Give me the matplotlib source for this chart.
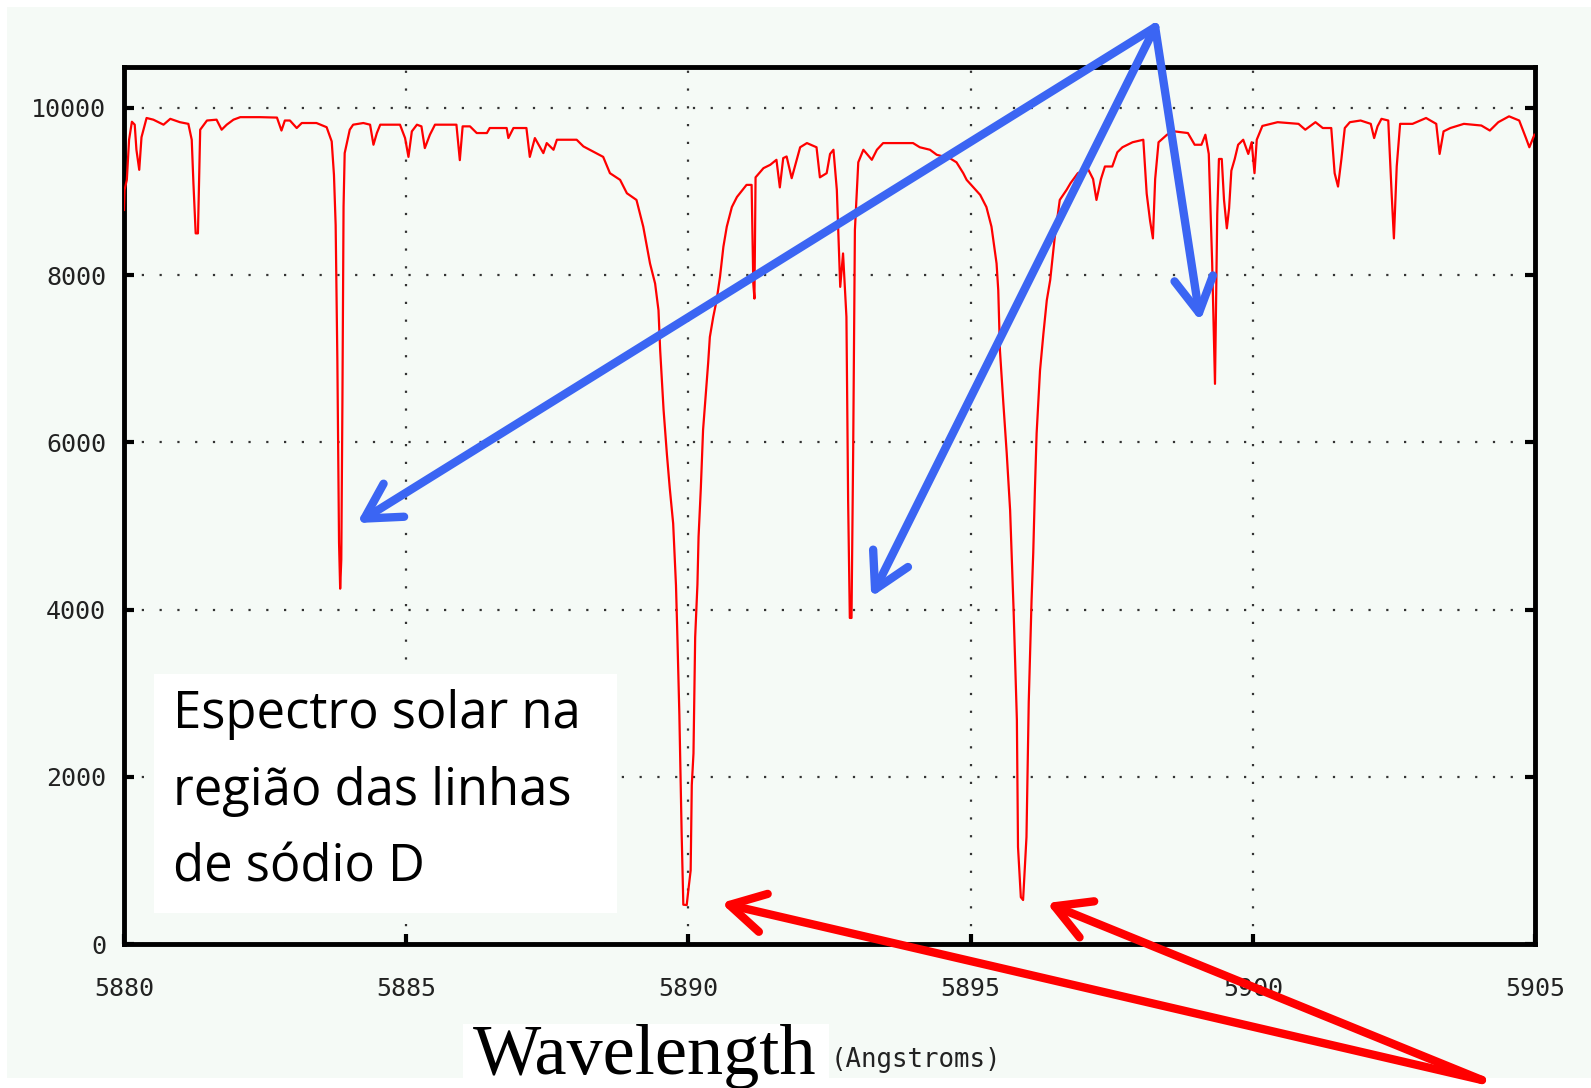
import matplotlib.pyplot as plt
from matplotlib.patches import Rectangle


# solar spectrum around the sodium D lines
WAVELENGTH = [
    5880.00, 5880.01, 5880.05, 5880.09, 5880.14, 5880.19, 5880.22, 5880.27, 5880.31, 5880.40,
    5880.52, 5880.70, 5880.82, 5880.99, 5881.14, 5881.20, 5881.23, 5881.27, 5881.31, 5881.35,
    5881.47, 5881.64, 5881.73, 5881.82, 5881.94, 5882.06, 5882.41, 5882.71, 5882.79, 5882.85,
    5882.94, 5883.06, 5883.15, 5883.41, 5883.59, 5883.68, 5883.72, 5883.75, 5883.78, 5883.81,
    5883.83, 5883.85, 5883.87, 5883.89, 5883.91, 5884.00, 5884.06, 5884.24, 5884.36, 5884.42,
    5884.48, 5884.54, 5884.89, 5884.98, 5885.04, 5885.10, 5885.19, 5885.27, 5885.33, 5885.42,
    5885.51, 5885.89, 5885.95, 5886.00, 5886.13, 5886.25, 5886.43, 5886.48, 5886.78, 5886.81,
    5886.90, 5887.13, 5887.19, 5887.28, 5887.43, 5887.49, 5887.61, 5887.67, 5888.02, 5888.14,
    5888.31, 5888.49, 5888.61, 5888.79, 5888.91, 5889.08, 5889.20, 5889.32, 5889.41, 5889.47,
    5889.50, 5889.56, 5889.62, 5889.67, 5889.73, 5889.78, 5889.80, 5889.84, 5889.88, 5889.91,
    5889.97, 5890.00, 5890.04, 5890.06, 5890.09, 5890.12, 5890.16, 5890.18, 5890.22, 5890.26,
    5890.31, 5890.35, 5890.38, 5890.44, 5890.50, 5890.56, 5890.62, 5890.68, 5890.77, 5890.86,
    5891.03, 5891.12, 5891.15, 5891.17, 5891.19, 5891.33, 5891.45, 5891.56, 5891.62, 5891.68,
    5891.74, 5891.83, 5891.92, 5891.98, 5892.10, 5892.27, 5892.33, 5892.45, 5892.51, 5892.57,
    5892.63, 5892.69, 5892.74, 5892.80, 5892.83, 5892.86, 5892.89, 5892.92, 5892.95, 5893.01,
    5893.10, 5893.25, 5893.34, 5893.45, 5893.75, 5893.98, 5894.10, 5894.28, 5894.40, 5894.63,
    5894.75, 5894.87, 5894.93, 5895.05, 5895.17, 5895.28, 5895.37, 5895.46, 5895.49, 5895.52,
    5895.58, 5895.64, 5895.70, 5895.76, 5895.82, 5895.84, 5895.89, 5895.93, 5895.99, 5896.03,
    5896.08, 5896.11, 5896.14, 5896.17, 5896.23, 5896.29, 5896.35, 5896.41, 5896.49, 5896.58,
    5896.70, 5896.77, 5896.90, 5897.08, 5897.17, 5897.23, 5897.31, 5897.38, 5897.51, 5897.60,
    5897.69, 5897.87, 5898.06, 5898.12, 5898.18, 5898.23, 5898.27, 5898.33, 5898.48, 5898.61,
    5898.85, 5898.97, 5899.09, 5899.16, 5899.22, 5899.28, 5899.33, 5899.37, 5899.40, 5899.45,
    5899.49, 5899.54, 5899.58, 5899.62, 5899.68, 5899.74, 5899.83, 5899.92, 5899.98, 5900.03,
    5900.07, 5900.17, 5900.44, 5900.81, 5900.93, 5901.11, 5901.24, 5901.39, 5901.45, 5901.51,
    5901.57, 5901.63, 5901.72, 5901.91, 5902.09, 5902.15, 5902.21, 5902.28, 5902.40, 5902.46,
    5902.50, 5902.55, 5902.61, 5902.83, 5903.07, 5903.25, 5903.31, 5903.38, 5903.50, 5903.74,
    5904.05, 5904.20, 5904.35, 5904.54, 5904.72, 5904.84, 5904.90, 5904.99,
]
FLUX = [
    8780, 9020, 9140, 9620, 9835, 9800, 9500, 9260, 9650, 9880,
    9860, 9800, 9870, 9830, 9810, 9620, 9100, 8500, 8500, 9740,
    9850, 9860, 9740, 9800, 9860, 9890, 9890, 9885, 9730, 9850,
    9850, 9760, 9820, 9820, 9770, 9600, 9200, 8600, 7000, 4800,
    4250, 4600, 6500, 8820, 9460, 9740, 9800, 9820, 9800, 9560,
    9700, 9800, 9800, 9640, 9415, 9720, 9800, 9780, 9520, 9680,
    9800, 9800, 9376, 9780, 9780, 9700, 9700, 9760, 9760, 9640,
    9760, 9760, 9415, 9640, 9460, 9580, 9500, 9620, 9620, 9540,
    9480, 9415, 9220, 9140, 8980, 8900, 8580, 8140, 7900, 7580,
    7100, 6390, 5850, 5450, 5030, 4290, 3800, 2740, 1330, 470,
    466, 650, 880, 1900, 2280, 3670, 4300, 4870, 5450, 6150,
    6590, 6950, 7260, 7500, 7700, 7980, 8340, 8580, 8815, 8935,
    9080, 9080, 7900, 7720, 9170, 9280, 9320, 9380, 9050, 9400,
    9420, 9160, 9380, 9530, 9580, 9530, 9170, 9220, 9450, 9500,
    9020, 7860, 8260, 7500, 5300, 3900, 3900, 5940, 8540, 9350,
    9500, 9380, 9500, 9580, 9580, 9580, 9530, 9500, 9440, 9400,
    9350, 9220, 9140, 9050, 8960, 8815, 8580, 8140, 7820, 7100,
    6470, 5870, 5190, 4030, 2680, 1160, 560, 526, 1280, 2890,
    4110, 4680, 5450, 6110, 6860, 7300, 7700, 7940, 8450, 8900,
    9020, 9100, 9220, 9270, 9150, 8900, 9150, 9300, 9300, 9470,
    9530, 9590, 9620, 8975, 8650, 8440, 9150, 9590, 9680, 9720,
    9700, 9560, 9560, 9680, 9450, 8150, 6700, 8730, 9390, 9390,
    8900, 8560, 8800, 9250, 9390, 9560, 9620, 9450, 9590, 9220,
    9620, 9785, 9830, 9810, 9740, 9830, 9760, 9760, 9220, 9060,
    9390, 9760, 9830, 9850, 9810, 9640, 9780, 9870, 9850, 8975,
    8440, 9300, 9810, 9810, 9880, 9810, 9450, 9720, 9760, 9810,
    9790, 9730, 9830, 9900, 9850, 9640, 9530, 9680,
]
X_TICKS = [5880, 5885, 5890, 5895, 5900, 5905]
Y_TICKS = [0, 2000, 4000, 6000, 8000, 10000]

# arrows: blue ones point at weaker lines, red ones at the sodium D pair
BLUE_SOURCE = (5898.27, 10967)
BLUE_TARGETS = [(5884.13, 5035), (5893.24, 4150), (5899.07, 7450)]
RED_SOURCE = (5904.06, -1627)
RED_TARGETS = [(5890.58, 490), (5896.35, 490)]

NOTE_LINES = ["Espectro solar na", "região das linhas", "de sódio D"]

W, H = 1591, 1088
BG = "#f5faf6"
BLUE = "#3b65f3"


def px_x(x):
    return x / W


def px_y(y):
    # y measured from the top of the picture
    return 1 - y / H


def main():
    fig = plt.figure(figsize=(W / 100, H / 100), dpi=100, facecolor="white")

    # slide background and the white patch behind the x label
    fig.add_artist(Rectangle((px_x(7), px_y(1078)), 1 - px_x(7), (1078 - 7) / H,
                             transform=fig.transFigure, facecolor=BG, edgecolor="none", zorder=-2))
    fig.add_artist(Rectangle((px_x(463), 0), 366 / W, (H - 1024) / H,
                             transform=fig.transFigure, facecolor="white", edgecolor="none", zorder=-1))

    ax = fig.add_axes([px_x(124), px_y(944), (1535 - 124) / W, (944 - 67) / H])
    ax.set_facecolor(BG)
    ax.plot(WAVELENGTH, FLUX, color="red", linewidth=1.6, zorder=3)

    ax.set_xlim(5880, 5905)
    ax.set_ylim(0, 10490)
    ax.set_xticks(X_TICKS, labels=[str(t) for t in X_TICKS],
                  fontfamily="DejaVu Sans Mono", fontsize=18, color="#222222")
    ax.set_yticks(Y_TICKS, labels=[str(t) for t in Y_TICKS],
                  fontfamily="DejaVu Sans Mono", fontsize=18, color="#222222")
    ax.tick_params(axis="both", direction="in", length=7, width=3, right=True, top=False)
    ax.tick_params(axis="x", pad=24)
    ax.tick_params(axis="y", pad=13)
    ax.set_axisbelow(True)
    ax.grid(True, color="#333333", linestyle=(0, (1, 7)), linewidth=1.6)
    for spine in ax.spines.values():
        spine.set_linewidth(3.5)
        spine.set_color("black")

    for target in BLUE_TARGETS:
        ax.annotate("", xy=target, xytext=BLUE_SOURCE, annotation_clip=False, zorder=5,
                    arrowprops=dict(arrowstyle="->,head_length=1.25,head_width=0.7",
                                    mutation_scale=20, color=BLUE, lw=6,
                                    shrinkA=0, shrinkB=0, clip_on=False))
    for target in RED_TARGETS:
        ax.annotate("", xy=target, xytext=RED_SOURCE, annotation_clip=False, zorder=5,
                    arrowprops=dict(arrowstyle="->,head_length=1.25,head_width=0.7",
                                    mutation_scale=20, color="red", lw=6,
                                    shrinkA=0, shrinkB=0, clip_on=False))

    # text box with the caption
    fig.add_artist(Rectangle((px_x(154), px_y(913)), 463 / W, (913 - 674) / H,
                             transform=fig.transFigure, facecolor="white", edgecolor="none", zorder=1))
    for i, line in enumerate(NOTE_LINES):
        fig.text(px_x(173), px_y(728 + 77 * i), line, fontfamily="Open Sans",
                 fontsize=36.5, color="black", va="baseline", ha="left", zorder=2)

    fig.text(px_x(473), px_y(1074), "Wavelength", fontfamily="Liberation Serif",
             fontsize=52, color="black", va="baseline", ha="left")
    fig.text(px_x(831), px_y(1067), "(Angstroms)", fontfamily="DejaVu Sans Mono",
             fontsize=18.5, color="#222222", va="baseline", ha="left")

    fig.savefig("out.png", dpi=100, facecolor="white")


if __name__ == "__main__":
    main()
